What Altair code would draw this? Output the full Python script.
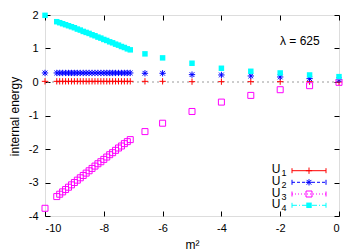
import altair as alt
import pandas as pd

# ---- data ----
m2 = [-10.0, -9.6, -9.5, -9.4, -9.3, -9.2, -9.1, -9.0, -8.9, -8.8, -8.7, -8.6, -8.5,
      -8.4, -8.3, -8.2, -8.1, -8.0, -7.9, -7.8, -7.7, -7.6, -7.5, -7.4, -7.3, -7.2,
      -7.1, -6.6, -6.0, -5.0, -4.0, -3.0, -2.0, -1.0, 0.0]
u1 = [0.02, 0.02, 0.02, 0.02, 0.02, 0.02, 0.02, 0.02, 0.02, 0.02, 0.02, 0.02, 0.02,
      0.02, 0.02, 0.02, 0.02, 0.02, 0.02, 0.02, 0.02, 0.02, 0.02, 0.02, 0.02, 0.02,
      0.02, 0.02, 0.02, 0.01, 0.01, 0.01, 0.01, 0.01, 0.0]
u2 = [0.27, 0.27, 0.27, 0.27, 0.27, 0.27, 0.27, 0.27, 0.27, 0.27, 0.27, 0.27, 0.27,
      0.27, 0.27, 0.27, 0.27, 0.27, 0.27, 0.27, 0.27, 0.27, 0.27, 0.27, 0.27, 0.27,
      0.27, 0.26, 0.26, 0.22, 0.21, 0.18, 0.15, 0.10, 0.07]
u3 = [-3.77, -3.42, -3.35, -3.28, -3.21, -3.14, -3.07, -3.00, -2.93, -2.86, -2.79,
      -2.72, -2.65, -2.58, -2.51, -2.44, -2.38, -2.31, -2.24, -2.17, -2.11, -2.04,
      -1.97, -1.91, -1.84, -1.78, -1.72, -1.48, -1.23, -0.88, -0.60, -0.40, -0.23,
      -0.11, -0.01]
u4 = [1.99, 1.80, 1.77, 1.74, 1.71, 1.68, 1.65, 1.62, 1.58, 1.55, 1.51, 1.48, 1.45,
      1.41, 1.38, 1.34, 1.31, 1.27, 1.24, 1.20, 1.17, 1.13, 1.10, 1.06, 1.03, 0.99,
      0.96, 0.84, 0.72, 0.56, 0.41, 0.32, 0.27, 0.21, 0.16]

series_names = ["U1", "U2", "U3", "U4"]
subscripts = ["1", "2", "3", "4"]
colors = ["#ff0000", "#0000ff", "#ff00ff", "#00ffff"]
x_ticks = [-10, -8, -6, -4, -2, 0]
y_ticks = [-4, -3, -2, -1, 0, 1, 2]
annotation = "λ = 625"

df = pd.DataFrame({"m2": m2, "U1": u1, "U2": u2, "U3": u3, "U4": u4})

FONT = "Liberation Sans"
W, H = 294, 201

xscale = alt.Scale(domain=[-10, 0], nice=False, zero=False)
yscale = alt.Scale(domain=[-4, 2], nice=False, zero=False)

PLUS = "M-1,0L1,0M0,-1L0,1"
STAR = "M-1,0L1,0M0,-1L0,1M-0.75,-0.75L0.75,0.75M-0.75,0.75L0.75,-0.75"

shapes = [PLUS, STAR, "square", "square"]
filled = [False, False, False, True]
sizes = [40, 40, 36, 30]
dashes = [[1, 0], [3, 2], [1, 2], [5, 2, 1, 2]]

base = alt.Chart(df)

# zero line
zero_line = alt.Chart(pd.DataFrame({"z": [0.0]})).mark_rule(
    color="#9a9a9a", strokeDash=[2, 3], strokeWidth=1
).encode(y=alt.Y("z:Q", scale=yscale, axis=None))

# axes (bottom/left with labels, inward ticks)
axis_layer = base.mark_point(opacity=0).encode(
    x=alt.X("m2:Q", scale=xscale, axis=alt.Axis(
        orient="bottom", values=x_ticks, offset=-5, tickSize=5, domain=False,
        grid=False, labelExpr="datum.value + ''", labelPadding=6,
        labelFont=FONT, labelFontSize=11, labelColor="black", tickColor="black",
        title="m²", titleFont=FONT, titleFontSize=12, titleFontWeight="normal",
        titleColor="black", titleX=147, titleY=37, titleAlign="center",
        titleBaseline="alphabetic")),
    y=alt.Y("U1:Q", scale=yscale, axis=alt.Axis(
        orient="left", values=y_ticks, offset=-5, tickSize=5, domain=False,
        grid=False, labelExpr="datum.value + ''", labelPadding=7,
        labelFont=FONT, labelFontSize=11, labelColor="black", tickColor="black",
        title="internal energy", titleFont=FONT, titleFontSize=12,
        titleFontWeight="normal", titleColor="black", titleAngle=-90,
        titleX=-32, titleY=H / 2 + 0.5, titleAlign="center",
        titleBaseline="alphabetic")),
)

mirror_layer = base.mark_point(opacity=0).encode(
    x=alt.X("m2:Q", scale=xscale, axis=alt.Axis(
        orient="top", values=x_ticks, offset=-5, tickSize=5, domain=False,
        grid=False, labels=False, title=None, tickColor="black")),
    y=alt.Y("U1:Q", scale=yscale, axis=alt.Axis(
        orient="right", values=y_ticks, offset=-5, tickSize=5, domain=False,
        grid=False, labels=False, title=None, tickColor="black")),
)

layers = [zero_line, axis_layer, mirror_layer]

for i, name in enumerate(series_names):
    mk = dict(shape=shapes[i], size=sizes[i], color=colors[i], opacity=1)
    if filled[i]:
        mk.update(filled=True, strokeWidth=0)
    else:
        mk.update(filled=False, strokeWidth=1)
    layers.append(
        base.mark_point(**mk).encode(
            x=alt.X("m2:Q", scale=xscale, axis=None),
            y=alt.Y(f"{name}:Q", scale=yscale, axis=None),
        )
    )

# annotation
one = pd.DataFrame({"a": [0]})
layers.append(
    alt.Chart(one).mark_text(text=annotation, font=FONT, fontSize=12, align="left",
                             baseline="alphabetic", color="black").encode(
        x=alt.value(235), y=alt.value(29.5))
)

# manual gnuplot-style legend (labels left of samples)
row_y = [155.7, 167.3, 179.0, 190.3]
x0, x1, xm, xlab = 247, 281, 264, 235.5
for i, name in enumerate(series_names):
    yy = row_y[i]
    layers.append(alt.Chart(one).mark_text(text="U", font=FONT, fontSize=12,
                                           align="right", baseline="alphabetic",
                                           color="black").encode(
        x=alt.value(xlab), y=alt.value(yy + 2.5)))
    layers.append(alt.Chart(one).mark_text(text=subscripts[i], font=FONT, fontSize=9,
                                           align="left", baseline="alphabetic",
                                           color="black").encode(
        x=alt.value(xlab + 1), y=alt.value(yy + 5.5)))
    layers.append(alt.Chart(one).mark_rule(color=colors[i], strokeWidth=1,
                                           strokeDash=dashes[i]).encode(
        x=alt.value(x0), x2=alt.value(x1), y=alt.value(yy)))
    for xc in (x0, x1):
        layers.append(alt.Chart(one).mark_rule(color=colors[i], strokeWidth=1).encode(
            x=alt.value(xc), y=alt.value(yy - 2.5), y2=alt.value(yy + 2.5)))
    mk = dict(shape=shapes[i], size=sizes[i], color=colors[i], opacity=1)
    if filled[i]:
        mk.update(filled=True, strokeWidth=0)
    else:
        mk.update(filled=False, strokeWidth=1)
    layers.append(alt.Chart(one).mark_point(**mk).encode(
        x=alt.value(xm), y=alt.value(yy)))

chart = alt.layer(*layers).properties(
    width=W, height=H,
    padding={"left": 37, "top": 7, "right": 12, "bottom": 36},
    autosize=alt.AutoSizeParams(type="none"),
).configure_view(stroke="black", strokeWidth=1).configure(background="white")

chart.save("out.html", embed_options={"renderer": "svg", "actions": False})
